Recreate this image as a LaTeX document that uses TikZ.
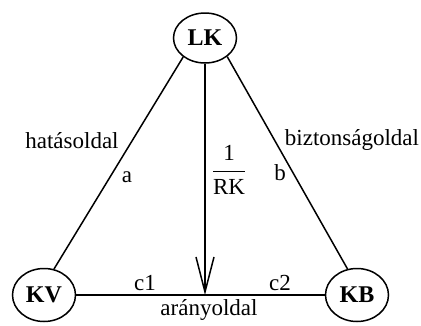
\documentclass[tikz,border=0pt]{standalone}
\usepackage{fontspec}
\setmainfont{Liberation Serif}
\usetikzlibrary{positioning, arrows.meta, shapes.geometric}

\begin{document}
\begin{tikzpicture}[x=1pt, y=-1pt, font=\fontsize{23}{27}\selectfont,
        corner/.style={ellipse, draw, line width=1.5pt, minimum width=63pt, minimum height=53pt, inner sep=0pt, font=\fontsize{24}{28}\selectfont\bfseries},
        side/.style={line width=1.5pt}]
        \useasboundingbox (0,0) rectangle (421,325);
        \node[corner, minimum height=50pt] (lk) at (205,38) {LK};
        \node[corner] (kv) at (44,295) {KV};
        \node[corner] (kb) at (357,295) {KB};
        \coordinate (m) at (lk |- kv);
        % sides of the triangle
        \draw[side] (lk.221) -- (kv.69);
        \draw[side] (lk.320) -- (kb.110);
        \draw[side] (kv) -- (kb);
        \draw[side, -{Straight Barb[length=35pt, width=18pt, line width=1.5pt]}] (lk) -- (m);
        % labels
        \node[anchor=base] (hat) at (72,148) {hatásoldal};
        \node[anchor=base] (a) at (127,182) {a};
        \node[anchor=base] (bizt) at (352,145) {biztonságoldal};
        \node[anchor=base] (b) at (280,180) {b};
        \node (rk) at (229,170) {$\displaystyle\frac{\mbox{1}}{\mbox{RK}}$};
        \node[anchor=base] (c1) at (145,290) {c1};
        \node[anchor=base] (c2) at (280,290) {c2};
        \node[anchor=base] (arany) at (209,315) {arányoldal};
        \end{tikzpicture}
\end{document}
